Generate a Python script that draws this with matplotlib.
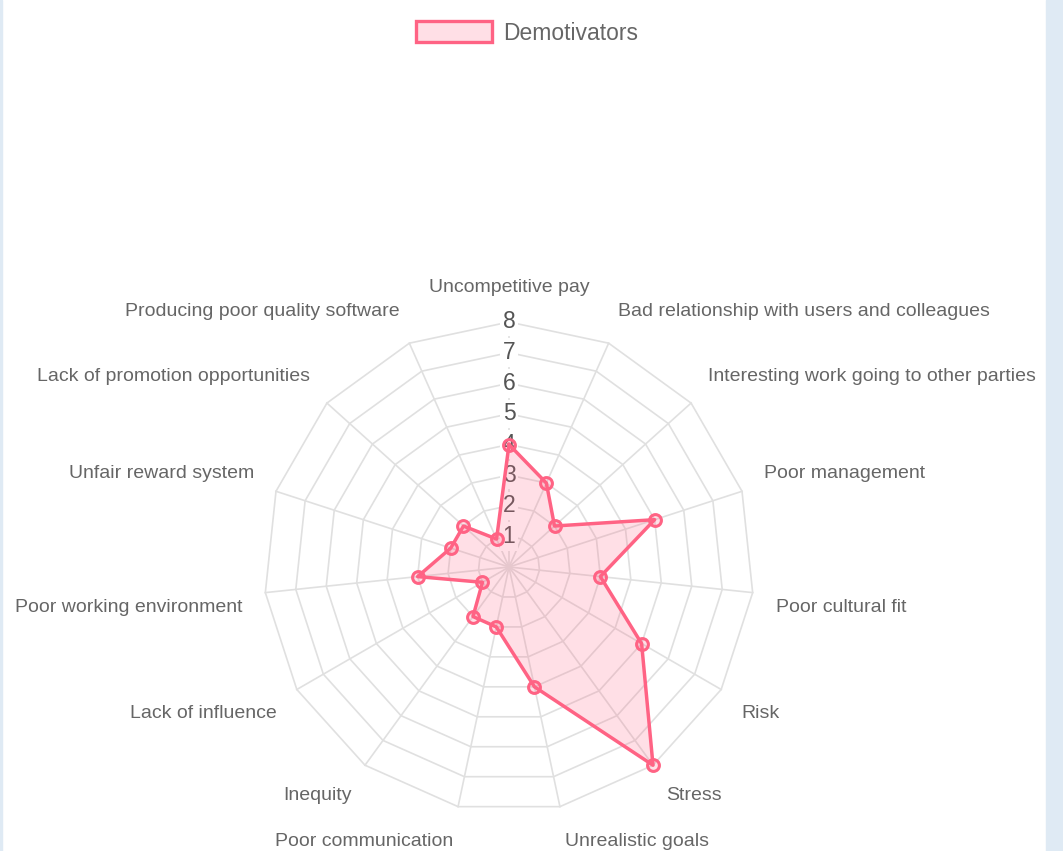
import numpy as np
import matplotlib
matplotlib.use("Agg")
import matplotlib.pyplot as plt
from matplotlib.patches import Patch, Rectangle

plt.rcParams['font.family'] = ['Liberation Sans', 'DejaVu Sans']

# data
categories = [
    "Uncompetitive pay",
    "Bad relationship with users and colleagues",
    "Interesting work going to other parties",
    "Poor management",
    "Poor cultural fit",
    "Risk",
    "Stress",
    "Unrealistic goals",
    "Poor communication",
    "Inequity",
    "Lack of influence",
    "Poor working environment",
    "Unfair reward system",
    "Lack of promotion opportunities",
    "Producing poor quality software",
]
values = [4, 3, 2, 5, 3, 5, 8, 4, 2, 2, 1, 3, 2, 2, 1]
tick_values = [1, 2, 3, 4, 5, 6, 7, 8]
series_name = "Demotivators"

W, H = 1063, 851
cx, cy, R = 509, 567, 245   # centre and radius of the radar, in pixels
r_max = 8

line_col = '#ff6384'
fill_col = (1.0, 99 / 255, 132 / 255, 0.2)
grid_col = '#e0e0e0'
text_col = '#666666'

fig = plt.figure(figsize=(W / 100, H / 100), dpi=100)
fig.patch.set_facecolor('white')
# light blue page edges
fig.patches.append(Rectangle((0, 0), 2 / W, 1, transform=fig.transFigure,
                             color='#dfeaf4', zorder=0))
fig.patches.append(Rectangle((1046 / W, 0), 17 / W, 1, transform=fig.transFigure,
                             color='#dfeaf4', zorder=0))

ax = fig.add_axes([(cx - R) / W, (H - cy - R) / H, 2 * R / W, 2 * R / H],
                  projection='polar')
ax.set_theta_zero_location('N')
ax.set_theta_direction(-1)
ax.set_ylim(0, r_max)
ax.set_axis_off()

n = len(categories)
angles = np.arange(n) * 2 * np.pi / n
closed = np.append(angles, angles[0])

# polygon grid
for t in tick_values:
    ax.plot(closed, [t] * (n + 1), color=grid_col, lw=1.2, zorder=1, clip_on=False)
for a in angles:
    ax.plot([a, a], [0, r_max], color=grid_col, lw=1.2, zorder=1, clip_on=False)

# tick labels with white backdrop
for t in tick_values:
    ax.text(0, t, str(t), ha='center', va='center', fontsize=16.5, color='#555555',
            bbox=dict(boxstyle='square,pad=0.12', fc='white', ec='none'), zorder=2)

# dataset
vals = np.append(values, values[0])
ax.fill(closed, vals, color=fill_col, lw=0, zorder=3, clip_on=False)
ax.plot(closed, vals, color=line_col, lw=2.5, zorder=4, clip_on=False)
ax.plot(angles, values, 'o', ms=8.5, mfc=fill_col, mec=line_col, mew=2.2,
        zorder=5, clip_on=False)

# point labels
r_lab = r_max * 268 / R
for a, lab in zip(angles, categories):
    s, c = np.sin(a), np.cos(a)
    if abs(s) < 1e-6:
        ha = 'center'
    elif s > 0:
        ha = 'left'
    else:
        ha = 'right'
    dy = 11 if c > 0 else -12
    ax.annotate(lab, xy=(a, r_lab), xytext=(0, dy), textcoords='offset pixels',
                ha=ha, va='center', fontsize=14, color=text_col,
                annotation_clip=False)

handle = Patch(facecolor=fill_col, edgecolor=line_col, lw=2.4)
fig.legend([handle], [series_name], loc='center',
           bbox_to_anchor=(527 / W, 1 - 33 / H), frameon=False,
           fontsize=16.5, labelcolor=text_col, handlelength=3.3,
           handleheight=1.0, handletextpad=0.5, borderpad=0)

fig.savefig('out.png', dpi=100)
